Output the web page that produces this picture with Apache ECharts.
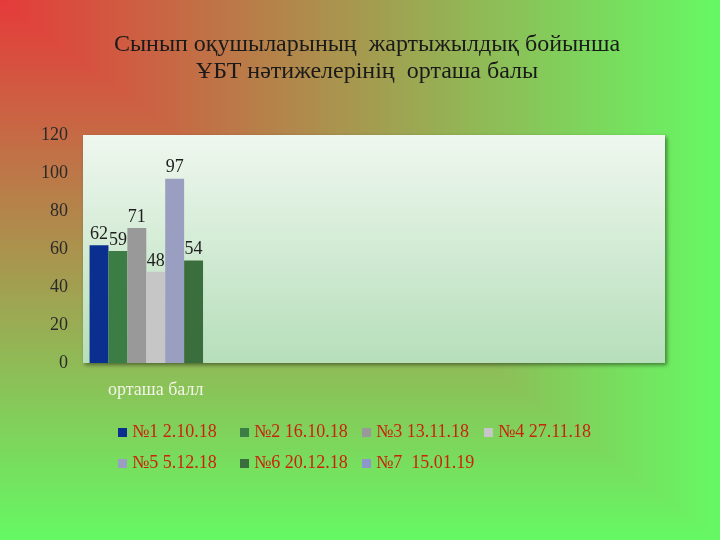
<!DOCTYPE html>
<html><head><meta charset="utf-8">
<script src="https://cdn.jsdelivr.net/npm/echarts@6/dist/echarts.min.js"></script>
<style>html,body{margin:0;padding:0;}#c{width:720px;height:540px;}</style>
</head><body><div id="c"></div>
<script>
const categories = ['орташа балл', '', '', ''];
const seriesNames = ['№1 2.10.18', '№2 16.10.18', '№3 13.11.18', '№4 27.11.18', '№5 5.12.18', '№6 20.12.18', '№7  15.01.19'];
const values1 = [62, null, null, null];
const values2 = [59, null, null, null];
const values3 = [71, null, null, null];
const values4 = [48, null, null, null];
const values5 = [97, null, null, null];
const values6 = [54, null, null, null];
const values7 = [null, null, null, null];
const allValues = [values1, values2, values3, values4, values5, values6, values7];
const colors = ['#0b2f8e', '#3b7d45', '#999999', '#c6c6c6', '#9a9ec0', '#3a6e3c', '#8e96cc'];
const yTicks = [0, 20, 40, 60, 80, 100, 120];

const serif = '"Liberation Serif", "DejaVu Serif", serif';

// Decorative rectangular ("from corner") background gradient: red -> green
const W = 720, H = 540, STEPS = 180;
const c0 = [230, 58, 58], c1 = [102, 248, 100];
const bg = [];
for (let i = STEPS; i >= 1; i--) {
  const t = i / STEPS;
  const col = 'rgb(' + c0.map((v, k) => Math.round(v + (c1[k] - v) * t)).join(',') + ')';
  bg.push({type: 'rect', silent: true, z: -10, shape: {x: 0, y: 0, width: Math.ceil(W * t), height: Math.ceil(H * t)}, style: {fill: col}});
}

const chart = echarts.init(document.getElementById('c'));
chart.setOption({
  backgroundColor: 'transparent',
  graphic: {elements: bg},
  title: {
    text: 'Сынып оқушыларының  жартыжылдық бойынша\nҰБТ нәтижелерінің  орташа балы',
    left: 362, textAlign: 'center', top: 26,
    textStyle: {fontFamily: serif, fontSize: 24, fontWeight: 'normal', color: '#1a1a1a', lineHeight: 27}
  },
  legend: {
    data: seriesNames,
    left: 113, top: 414, width: 500,
    itemWidth: 9, itemHeight: 9, itemGap: 4,
    icon: 'rect',
    textStyle: {fontFamily: serif, fontSize: 18, color: '#c8240c', width: 104, lineHeight: 27}
  },
  grid: {
    left: 83, right: 55, top: 135, bottom: 177, show: true,
    borderWidth: 0,
    backgroundColor: {
      type: 'linear', x: 0, y: 0, x2: 0, y2: 1,
      colorStops: [{offset: 0, color: '#eff7ef'}, {offset: 1, color: '#b6dfba'}]
    },
    shadowColor: 'rgba(0,0,0,0.45)', shadowBlur: 4, shadowOffsetX: 2, shadowOffsetY: 2
  },
  xAxis: {
    type: 'category', data: categories,
    axisLine: {show: false}, axisTick: {show: false},
    axisLabel: {fontFamily: serif, fontSize: 18, color: '#f4f4e8', margin: 18}
  },
  yAxis: {
    type: 'value', min: 0, max: 120, interval: 20,
    axisLine: {show: false}, axisTick: {show: false}, splitLine: {show: false},
    axisLabel: {fontFamily: serif, fontSize: 18, color: '#2a2a2a', margin: 15,
      formatter: v => yTicks.includes(v) ? String(v) : ''}
  },
  series: seriesNames.map((n, i) => ({
    name: n, type: 'bar', data: allValues[i],
    barGap: '0%', barCategoryGap: '9%',
    itemStyle: {color: colors[i]},
    label: {show: true, position: 'top', distance: 2, fontFamily: serif, fontSize: 18, color: '#1e1e1e'}
  }))
});
</script></body></html>
